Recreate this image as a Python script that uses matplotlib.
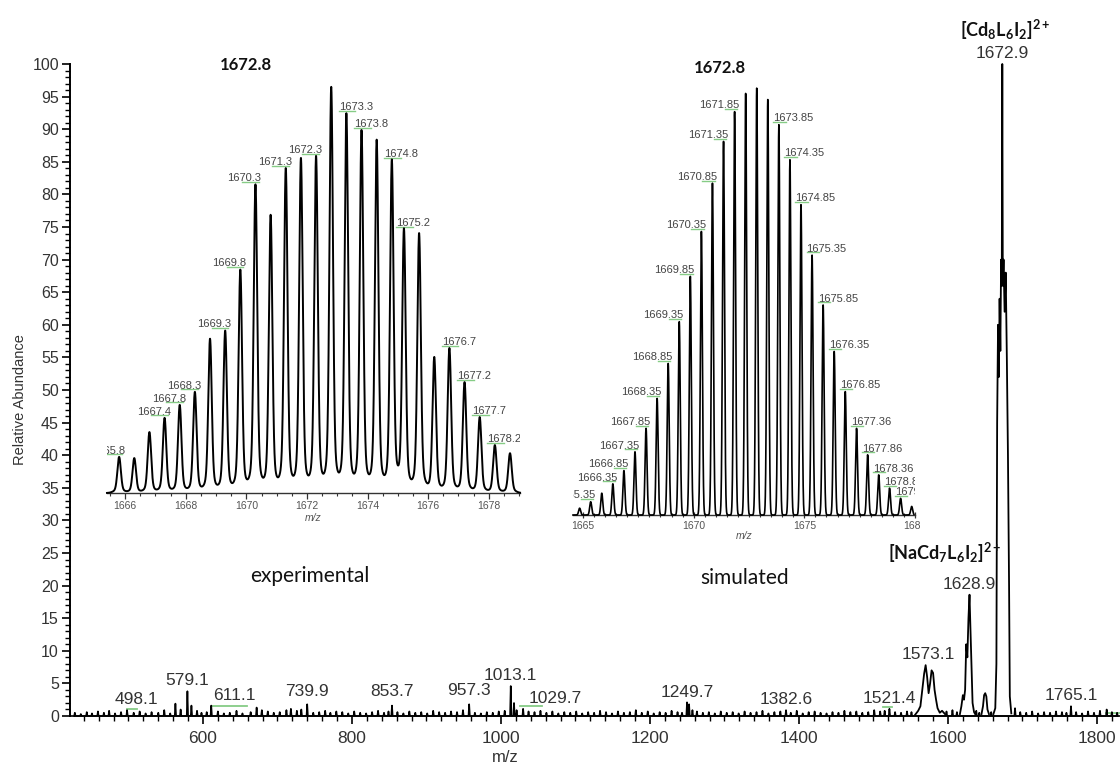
import numpy as np
import matplotlib
matplotlib.use("Agg")
import matplotlib.pyplot as plt
from matplotlib.ticker import MultipleLocator
from matplotlib.transforms import Bbox, TransformedBbox

plt.rcParams['mathtext.fontset'] = 'custom'
plt.rcParams['mathtext.rm'] = 'Lato:bold'
plt.rcParams['mathtext.bf'] = 'Lato:bold'
plt.rcParams['mathtext.it'] = 'Lato:bold:italic'
plt.rcParams['mathtext.sf'] = 'Lato:bold'

# ---------------- data ----------------
# main spectrum: labelled / visible peaks (m/z, relative abundance)
main_peak_mz = [498.1, 563.0, 579.1, 584.5, 611.1, 672.0, 739.9, 853.7, 957.3,
                1013.1, 1017.5, 1029.7, 1249.7, 1252.5, 1382.6, 1521.4, 1765.1]
main_peak_int = [0.9, 1.9, 3.8, 1.6, 1.6, 1.3, 1.8, 1.6, 1.8,
                 4.6, 2.0, 1.1, 2.1, 1.8, 0.9, 1.1, 1.5]

# baseline noise spikes (m/z, abundance)
noise_peaks = [
    (428, .5), (436, .3), (444, .6), (451, .4), (459, .7), (467, .5), (474, .8), (482, .4), (490, .6), (507, .5),
    (515, .7), (523, .4), (531, .6), (540, .5), (548, .9), (556, .4), (570, 1.0), (592, .8), (598, .5), (605, .6),
    (620, .7), (628, .4), (636, .5), (645, .8), (653, .4), (664, .6), (679, .9), (687, .7), (695, .5), (703, .6),
    (712, .9), (718, 1.1), (726, .8), (732, 1.0), (748, .5), (756, .6), (764, .8), (771, .5), (779, .7), (787, .6),
    (795, .4), (803, .7), (811, .5), (819, .4), (827, .6), (835, .8), (843, .5), (849, .7), (861, .6), (869, .4),
    (877, .7), (885, .5), (893, .6), (901, .4), (909, .8), (917, .6), (925, .5), (933, .7), (941, .6), (949, .9),
    (965, .5), (973, .4), (981, .6), (989, .5), (997, .7), (1005, .8), (1021, .9), (1037, .7), (1045, .6), (1053, .8),
    (1061, .5), (1069, .7), (1077, .4), (1085, .6), (1093, .5), (1101, .7), (1109, .4), (1117, .6), (1125, .5), (1133, .8),
    (1141, .6), (1149, .4), (1157, .7), (1165, .5), (1173, .6), (1181, .9), (1189, .5), (1197, .7), (1205, .4), (1213, .6),
    (1221, .5), (1229, .8), (1237, .6), (1243, .5), (1257, .9), (1263, .7), (1271, .5), (1279, .6), (1287, .4), (1295, .7),
    (1303, .5), (1311, .6), (1319, .4), (1327, .7), (1335, .5), (1343, .6), (1351, .8), (1359, .4), (1367, .6), (1375, .7),
    (1389, .5), (1397, .8), (1405, .4), (1413, .6), (1421, .7), (1429, .5), (1437, .4), (1445, .6), (1453, .5), (1461, .8),
    (1469, .6), (1477, .7), (1485, .5), (1493, .6), (1501, .9), (1509, .7), (1515, .8), (1529, .6), (1537, .5), (1545, .7),
    (1551, .6), (1598, .7), (1606, .9), (1612, .6), (1638, .8), (1642, .5), (1658, .6), (1690, 1.2), (1697, .6), (1705, .5),
    (1713, .7), (1721, .4), (1729, .6), (1737, .5), (1745, .7), (1753, .6), (1759, .5), (1772, .6), (1780, .4), (1788, .7),
    (1796, .5), (1804, .8), (1813, 1.0), (1820, .6), (1827, .5),
]

# profile clusters (m/z, abundance)
cluster_1573_mz = [1556, 1560, 1563, 1566, 1568, 1570, 1572, 1574, 1576, 1578, 1580, 1582, 1584, 1586, 1589, 1592, 1596]
cluster_1573_int = [0.2, 0.8, 1.5, 4.5, 6.5, 7.8, 6.0, 3.5, 5.0, 7.0, 6.6, 4.0, 2.5, 1.2, 0.5, 0.8, 0.3]
cluster_1628_mz = [1616, 1618, 1620, 1621.5, 1623, 1624.5, 1626, 1627.5, 1628.9, 1630, 1631, 1632, 1633, 1635, 1637]
cluster_1628_int = [0.3, 1.5, 3.2, 2.5, 4.0, 11.0, 9.0, 15.0, 18.6, 14.0, 10.0, 6.0, 2.0, 0.6, 0.2]
cluster_1650_mz = [1645, 1647, 1648.5, 1650, 1651.5, 1653, 1655]
cluster_1650_int = [0.3, 1.5, 3.2, 3.5, 3.0, 1.0, 0.3]
cluster_1672_mz = [1661, 1663.5, 1665, 1666, 1667.2, 1668.3, 1669.3, 1670.3, 1671.3, 1672.2, 1672.9,
                   1673.6, 1674.6, 1676.0, 1677.5, 1679.0, 1680.5, 1682.0, 1683.0, 1685.0]
cluster_1672_int = [0.3, 1.2, 8.0, 45.0, 60.0, 52.0, 64.0, 56.0, 70.0, 66.0, 100.0,
                    66.0, 70.0, 62.0, 68.0, 55.0, 40.0, 20.0, 3.0, 0.4]

main_labels = ["498.1", "579.1", "611.1", "739.9", "853.7", "957.3", "1013.1", "1029.7",
               "1249.7", "1382.6", "1521.4", "1573.1", "1628.9", "1672.9", "1765.1"]
main_label_int = [0.9, 3.8, 1.6, 2.2, 2.2, 2.4, 4.6, 1.1, 2.1, 0.9, 1.1, 7.9, 18.6, 100.0, 1.5]

main_xticks = [600, 800, 1000, 1200, 1400, 1600, 1800]

# experimental isotope pattern (inset 1)
exp_mz = [1665.8, 1666.3, 1666.8, 1667.3, 1667.8, 1668.3, 1668.8, 1669.3, 1669.8, 1670.3,
          1670.8, 1671.3, 1671.8, 1672.3, 1672.8, 1673.3, 1673.8, 1674.3, 1674.8, 1675.2,
          1675.7, 1676.2, 1676.7, 1677.2, 1677.7, 1678.2, 1678.7]
exp_int = [8.9, 8.6, 15.0, 18.5, 21.7, 24.9, 38.0, 40.0, 55.0, 76.0,
           68.5, 80.0, 82.5, 83.0, 100.0, 93.5, 89.4, 87.0, 82.0, 65.0,
           64.0, 33.5, 35.7, 27.3, 18.7, 11.8, 9.8]
exp_labels = ["1665.8", "1667.4", "1667.8", "1668.3", "1669.3", "1669.8", "1670.3", "1671.3",
              "1672.3", "1673.3", "1673.8", "1674.8", "1675.2", "1676.7", "1677.2", "1677.7", "1678.2"]
exp_xticks = [1666, 1668, 1670, 1672, 1674, 1676, 1678]

# simulated isotope pattern (inset 2)
sim_mz = [1664.85, 1665.35, 1665.85, 1666.35, 1666.85, 1667.35, 1667.85, 1668.35, 1668.85, 1669.35,
          1669.85, 1670.35, 1670.85, 1671.35, 1671.85, 1672.35, 1672.85, 1673.35, 1673.85, 1674.35,
          1674.85, 1675.35, 1675.85, 1676.35, 1676.85, 1677.36, 1677.86, 1678.36, 1678.85, 1679.35, 1679.85]
sim_int = [1.6, 3.1, 5.1, 7.3, 10.4, 14.8, 20.3, 27.3, 35.5, 45.3,
           55.9, 66.4, 77.7, 87.5, 94.5, 98.8, 100.0, 97.3, 91.4, 83.2,
           72.7, 60.9, 49.2, 38.3, 28.9, 20.3, 14.1, 9.4, 6.3, 3.9, 2.0]
sim_labels = ["1665.35", "1666.35", "1666.85", "1667.35", "1667.85", "1668.35", "1668.85", "1669.35",
              "1669.85", "1670.35", "1670.85", "1671.35", "1671.85", "1673.85", "1674.35", "1674.85",
              "1675.35", "1675.85", "1676.35", "1676.85", "1677.36", "1677.86", "1678.36", "1678.85", "1679.35"]
sim_xticks = [1665, 1670, 1675, 1680]

# ---------------- figure ----------------
W, H = 1120, 767
fig = plt.figure(figsize=(W / 100, H / 100), dpi=100)


def px_axes(x0, x1, ybot, ytop):
    return fig.add_axes([x0 / W, 1 - ybot / H, (x1 - x0) / W, (ybot - ytop) / H])


ARIAL = 'Liberation Sans'
CAL = 'Lato'
TXT = '#333333'
GREEN = '#86cc86'

ax = px_axes(70, 1120, 716, 64)
ax.set_xlim(421.5, 1830.9)
ax.set_ylim(0, 100)

# stick trace for peaks + noise
pts = sorted(list(zip(main_peak_mz, main_peak_int)) + noise_peaks)
tx, ty = [], []
for m, h in pts:
    tx += [m - 0.9, m, m + 0.9]
    ty += [0, h, 0]
ax.plot(tx, ty, color='black', lw=1.2, clip_on=False, zorder=3)
for cm, ci in [(cluster_1573_mz, cluster_1573_int), (cluster_1628_mz, cluster_1628_int),
               (cluster_1650_mz, cluster_1650_int), (cluster_1672_mz, cluster_1672_int)]:
    ax.plot(cm, ci, color='black', lw=1.3, clip_on=False, zorder=3)

for s in ['top', 'right']:
    ax.spines[s].set_visible(False)
ax.spines['left'].set_linewidth(1.4)
ax.spines['bottom'].set_linewidth(1.2)
ax.set_xticks(main_xticks)
ax.xaxis.set_minor_locator(MultipleLocator(20))
ax.set_yticks(range(0, 101, 5))
ax.yaxis.set_minor_locator(MultipleLocator(1))
ax.tick_params(which='major', direction='out', length=6, width=1.2, labelcolor=TXT)
ax.tick_params(which='minor', direction='out', length=3.5, width=1.0)
ax.tick_params(axis='y', labelsize=11.5, pad=2)
ax.tick_params(axis='x', labelsize=12.5, pad=5)
for lab in ax.get_xticklabels() + ax.get_yticklabels():
    lab.set_fontfamily(ARIAL)

fig.text(20 / W, 1 - 400 / H, 'Relative Abundance', rotation=90, ha='center', va='center',
         fontsize=10.5, family=ARIAL, color=TXT)
fig.text(505 / W, 1 - 758 / H, 'm/z', ha='center', va='center', fontsize=12, family=ARIAL, color=TXT)

# main peak labels
label_dx = {"498.1": 7, "611.1": 1, "1029.7": 4}
label_ha = {"611.1": 'left', "1029.7": 'left'}
for lab, h in zip(main_labels, main_label_int):
    m = float(lab)
    ax.annotate(lab, xy=(m, h), xytext=(label_dx.get(lab, 0), 2), textcoords='offset points',
                ha=label_ha.get(lab, 'center'), va='bottom', fontsize=12.5, family=ARIAL,
                color=TXT, annotation_clip=False)
for g0, g1, gy in [(498, 511, 1.1), (612, 659, 1.6), (1025, 1055, 1.5), (1513, 1525, 1.4), (1812, 1831, 0.5)]:
    ax.plot([g0, g1], [gy, gy], color=GREEN, lw=1.3, clip_on=False, zorder=2)

fig.text(1005 / W, 1 - 30 / H, r'[Cd$_{\mathrm{8}}$L$_{\mathrm{6}}$I$_{\mathrm{2}}$]$^{\mathrm{2+}}$',
         ha='center', va='center', fontsize=13, family=CAL, weight='bold', color='#111')
fig.text(945 / W, 1 - 553 / H, r'[NaCd$_{\mathrm{7}}$L$_{\mathrm{6}}$I$_{\mathrm{2}}$]$^{\mathrm{2+}}$',
         ha='center', va='center', fontsize=13, family=CAL, weight='bold', color='#111')
fig.text(310 / W, 1 - 576 / H, 'experimental', ha='center', va='center', fontsize=15, family=CAL, color='#111')
fig.text(745 / W, 1 - 578 / H, 'simulated', ha='center', va='center', fontsize=15, family=CAL, color='#111')
fig.text(246 / W, 1 - 65 / H, '1672.8', ha='center', va='center', fontsize=12, family=CAL, weight='bold', color='#111')
fig.text(720 / W, 1 - 68 / H, '1672.8', ha='center', va='center', fontsize=12, family=CAL, weight='bold', color='#111')


def draw_inset(x0, x1, ybot, ytop, xlim, mz, inten, labels, xticks, minor, sigma, foot,
               lw, tick_dir, labelclip, mzlabel_pad):
    a = px_axes(x0, x1, ybot, ytop)
    a.set_facecolor('none')
    a.set_xlim(*xlim)
    a.set_ylim(0, 100)
    xs = np.linspace(xlim[0], xlim[1], 4000)
    ys = np.zeros_like(xs)
    for m, h in zip(mz, inten):
        ys += h * (1 - foot) * np.exp(-0.5 * ((xs - m) / sigma) ** 2)
        ys += h * foot * np.exp(-0.5 * ((xs - m) / (sigma * 2.6)) ** 2)
    a.plot(xs, ys, color='black', lw=lw, zorder=3, clip_on=False)
    for s in ['top', 'right', 'left']:
        a.spines[s].set_visible(False)
    a.spines['bottom'].set_color('#333')
    a.spines['bottom'].set_linewidth(1.0)
    a.set_yticks([])
    a.set_xticks(xticks)
    a.set_xticklabels([str(t) for t in xticks])
    a.xaxis.set_minor_locator(MultipleLocator(minor))
    a.tick_params(axis='x', which='major', direction=tick_dir, length=4, width=0.9, colors='#333',
                  labelsize=7.5, labelcolor='#555', pad=2)
    a.tick_params(axis='x', which='minor', direction=tick_dir, length=2.5, width=0.8, colors='#333')
    a.set_xlabel('m/z', fontsize=7.5, style='italic', color='#555', labelpad=mzlabel_pad, family=ARIAL)
    cb = TransformedBbox(Bbox([[labelclip[0] / W, 0], [labelclip[1] / W, 1]]), fig.transFigure)
    for t in a.get_xticklabels():
        t.set_fontfamily(ARIAL)
        t.set_clip_box(cb)
        t.set_clip_on(True)
    mz_arr = np.array(mz)
    apex = mz[int(np.argmax(inten))]
    for lab in labels:
        v = float(lab)
        i = int(np.argmin(np.abs(mz_arr - v)))
        m, h = mz[i], inten[i]
        if v < apex:
            a.text(m + 0.2, h + 0.3, lab, ha='right', va='bottom', fontsize=8, family=ARIAL,
                   color='#444', clip_on=True)
            a.plot([m - 0.45, m + 0.1], [h + 0.6, h + 0.6], color=GREEN, lw=1.0, clip_on=True)
        else:
            a.text(m - 0.25, h + 0.3, lab, ha='left', va='bottom', fontsize=8, family=ARIAL,
                   color='#444', clip_on=True)
            a.plot([m - 0.25, m + 0.3], [h + 0.6, h + 0.6], color=GREEN, lw=1.0, clip_on=True)
    return a


draw_inset(107, 520, 493, 87, (1665.40, 1679.03), exp_mz, exp_int, exp_labels, exp_xticks,
           0.5, 0.055, 0.12, 1.4, 'out', (100, 540), 1)
draw_inset(573, 915, 515, 88, (1664.55, 1679.95), sim_mz, sim_int, sim_labels, sim_xticks,
           0.5, 0.045, 0.0, 1.2, 'inout', (573, 920), 0)

fig.savefig('out.png', dpi=100)
